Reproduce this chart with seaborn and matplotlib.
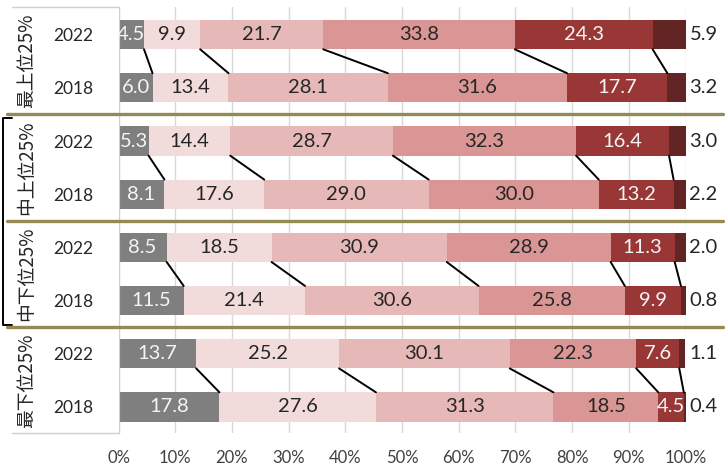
import matplotlib
matplotlib.use('Agg')
import matplotlib.pyplot as plt
import matplotlib.transforms as mtransforms
import numpy as np
import pandas as pd
import seaborn as sns

# data (percent shares, 6 segments per bar)
groups = ['最上位25%', '中上位25%', '中下位25%', '最下位25%']
years = ['2022', '2018']
seg_2022 = [
    [4.5, 9.9, 21.7, 33.8, 24.3, 5.9],
    [5.3, 14.4, 28.7, 32.3, 16.4, 3.0],
    [8.5, 18.5, 30.9, 28.9, 11.3, 2.0],
    [13.7, 25.2, 30.1, 22.3, 7.6, 1.1],
]
seg_2018 = [
    [6.0, 13.4, 28.1, 31.6, 17.7, 3.2],
    [8.1, 17.6, 29.0, 30.0, 13.2, 2.2],
    [11.5, 21.4, 30.6, 25.8, 9.9, 0.8],
    [17.8, 27.6, 31.3, 18.5, 4.5, 0.4],
]
colors = ['#7f7f7f', '#f2dcdb', '#e6b9b8', '#d99694', '#983736', '#632523']
text_colors = ['#f5f5f5', '#262626', '#262626', '#262626', '#f5f5f5']
xticks = [0, 10, 20, 30, 40, 50, 60, 70, 80, 90, 100]

sns.set_style('white')
plt.rcParams['font.family'] = ['Lato', 'Noto Sans CJK JP', 'DejaVu Sans']

# build one row per bar, top to bottom
rows, vals = [], []
for g, a, b in zip(groups, seg_2022, seg_2018):
    rows += [g + ' 2022', g + ' 2018']
    vals += [a, b]
vals = np.array(vals)
cum = np.cumsum(vals, axis=1)
df = pd.DataFrame(cum, columns=[f'c{k}' for k in range(6)])
df['row'] = rows

fig = plt.figure(figsize=(7.25, 4.65), dpi=100)
ax = fig.add_axes([118.5 / 725, 32 / 465, 567 / 725, 426 / 465])

bar_h = 0.55
for k in range(5, -1, -1):
    sns.barplot(data=df, x=f'c{k}', y='row', order=rows, orient='h',
                color=colors[k], saturation=1, width=bar_h, linewidth=0, ax=ax)

ax.set_xlim(0, 100)
ax.set_ylim(7.49, -0.52)
ax.set_xticks(xticks)
ax.set_xticklabels([f'{t}%' for t in xticks], fontsize=12, color='#404040')
ax.set_yticks(range(len(rows)))
ax.set_yticklabels([years[i % 2] for i in range(len(rows))], fontsize=12.5, color='#262626')
ax.tick_params(axis='x', length=0, pad=12)
ax.tick_params(axis='y', length=0, pad=18)
ax.set_xlabel('')
ax.set_ylabel('')
ax.xaxis.grid(True, color='#d9d9d9', linewidth=1)
ax.set_axisbelow(True)
for s in ['top', 'right', 'bottom']:
    ax.spines[s].set_visible(False)
ax.spines['left'].set_color('#d0d0d0')

# segment values
for r in range(len(rows)):
    left = 0
    for k in range(5):
        v = vals[r, k]
        ax.text(left + v / 2, r, f'{v:.1f}', ha='center', va='center',
                fontsize=14.5, color=text_colors[k])
        left += v
    ax.text(100.7, r, f'{vals[r, 5]:.1f}', ha='left', va='center',
            fontsize=14.5, color='#262626', clip_on=False)

# connector lines between 2022 and 2018 bars
for gi in range(4):
    r = gi * 2
    for k in range(5):
        ax.plot([cum[r, k], cum[r + 1, k]], [r + bar_h / 2, r + 1 - bar_h / 2],
                color='black', linewidth=1.4, zorder=5)

trans = mtransforms.blended_transform_factory(ax.transAxes, ax.transData)
ax_px = 567.0

def fx(px):
    return (px - 118.5) / ax_px

# group labels
for gi, g in enumerate(groups):
    ax.text(fx(27), gi * 2 + 0.5, g, transform=trans, rotation=90,
            ha='center', va='center', fontsize=13.5, color='#262626',
            family=['Noto Sans CJK JP'])

# group separators
for y in [1.5, 3.5, 5.5]:
    ax.plot([fx(7), fx(723)], [y, y], transform=trans, color='#948a54',
            linewidth=2.4, clip_on=False, zorder=6)

# label box lines
for y in [-0.52, 7.49]:
    ax.plot([fx(12), 0], [y, y], transform=trans, color='#d0d0d0',
            linewidth=1, clip_on=False)

# bracket around the middle two groups
ax.plot([fx(12), fx(3), fx(3), fx(12)], [1.56, 1.56, 5.46, 5.46],
        transform=trans, color='black', linewidth=1.4, clip_on=False)

fig.savefig('out.png', dpi=100)
